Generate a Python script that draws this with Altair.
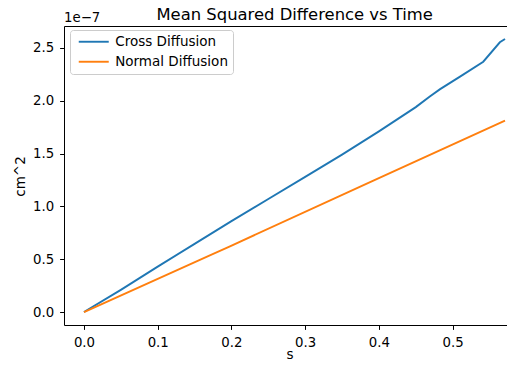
import altair as alt
import pandas as pd

# ---- data ----
series_names = ["Cross Diffusion", "Normal Diffusion"]
series_colors = ["#1f77b4", "#ff7f0e"]

t_cross = [0.0, 0.05, 0.1, 0.15, 0.2, 0.25, 0.3, 0.35, 0.4, 0.45,
           0.469, 0.483, 0.51, 0.5415, 0.564, 0.571]
msd_cross = [0.0, 0.21e-7, 0.43e-7, 0.645e-7, 0.86e-7, 1.07e-7, 1.28e-7, 1.49e-7,
             1.71e-7, 1.94e-7, 2.04e-7, 2.11e-7, 2.229e-7, 2.37e-7, 2.554e-7,
             2.585e-7]

t_normal = [0.0, 0.198, 0.388, 0.571]
msd_normal = [0.0, 0.622e-7, 1.23e-7, 1.813e-7]

x_ticks = [0.0, 0.1, 0.2, 0.3, 0.4, 0.5]
y_ticks = [0.0, 0.5e-7, 1.0e-7, 1.5e-7, 2.0e-7, 2.5e-7]

title_text = "Mean Squared Difference vs Time"
offset_text = "1e\u22127"

df = pd.concat([
    pd.DataFrame({"t": t_cross, "msd": msd_cross, "series": series_names[0]}),
    pd.DataFrame({"t": t_normal, "msd": msd_normal, "series": series_names[1]}),
], ignore_index=True)

FONT = "DejaVu Sans"
FS_TICK = 13.3
FS_TEXT = 13.5

x_scale = alt.Scale(domain=[-0.0271, 0.5737], nice=False, zero=False)
y_scale = alt.Scale(domain=[-0.123e-7, 2.708e-7], nice=False, zero=False)

lines = alt.Chart(df).mark_line(strokeWidth=1.9, clip=True).encode(
    x=alt.X("t:Q", scale=x_scale,
            axis=alt.Axis(values=x_ticks, format=".1f", title="s",
                          titleX=225.5, titleY=33, titleBaseline="alphabetic",
                          titleAlign="center", labelPadding=6.5)),
    y=alt.Y("msd:Q", scale=y_scale,
            axis=alt.Axis(values=y_ticks,
                          labelExpr="format(datum.value*1e7, '.1f')",
                          title="cm^2", titleX=-40, titleY=150,
                          titleBaseline="alphabetic", titleAlign="center",
                          titleAngle=270, labelPadding=6)),
    color=alt.Color("series:N",
                    scale=alt.Scale(domain=series_names, range=series_colors),
                    legend=alt.Legend(title=None, orient="none", legendX=6, legendY=4,
                                      symbolType="M-1.5,0H13.5", symbolSize=16,
                                      symbolStrokeWidth=1.9,
                                      symbolFillColor="transparent",
                                      labelFont=FONT, labelFontSize=FS_TEXT,
                                      labelColor="black", labelOffset=26.7,
                                      padding=5, rowPadding=5,
                                      fillColor="rgba(255,255,255,0.8)",
                                      strokeColor="#cccccc", cornerRadius=3)),
)

top_spine = alt.Chart(df).mark_rule(opacity=0).encode(
    x=alt.X("t:Q", scale=x_scale,
            axis=alt.Axis(orient="top", labels=False, ticks=False, title=None,
                          domain=True)),
)

offset_label = alt.Chart(pd.DataFrame({"label": [offset_text]})).mark_text(
    align="left", baseline="alphabetic", font=FONT, fontSize=FS_TICK, color="black"
).encode(text="label:N", x=alt.value(0), y=alt.value(-4))

title_mark = alt.Chart(pd.DataFrame({"label": [title_text]})).mark_text(
    align="center", baseline="alphabetic", font=FONT, fontSize=16.4, color="black"
).encode(text="label:N", x=alt.value(230.7), y=alt.value(-5.7))

chart = alt.layer(lines, top_spine, offset_label, title_mark).resolve_axis(
    x="independent"
).properties(
    width=443, height=299,
    autosize=alt.AutoSizeParams(type="none"),
    padding={"left": 56, "top": 18, "right": 0, "bottom": 36},
    background="white",
).configure_view(stroke=None).configure_axis(
    grid=False, domainColor="black", domainWidth=1, tickColor="black",
    tickWidth=1, tickSize=4.4, labelFont=FONT, labelFontSize=FS_TICK,
    labelColor="black", titleFont=FONT, titleFontSize=FS_TEXT,
    titleFontWeight="normal", titleColor="black",
)

chart.save("out.html", embed_options={"renderer": "svg", "actions": False})
